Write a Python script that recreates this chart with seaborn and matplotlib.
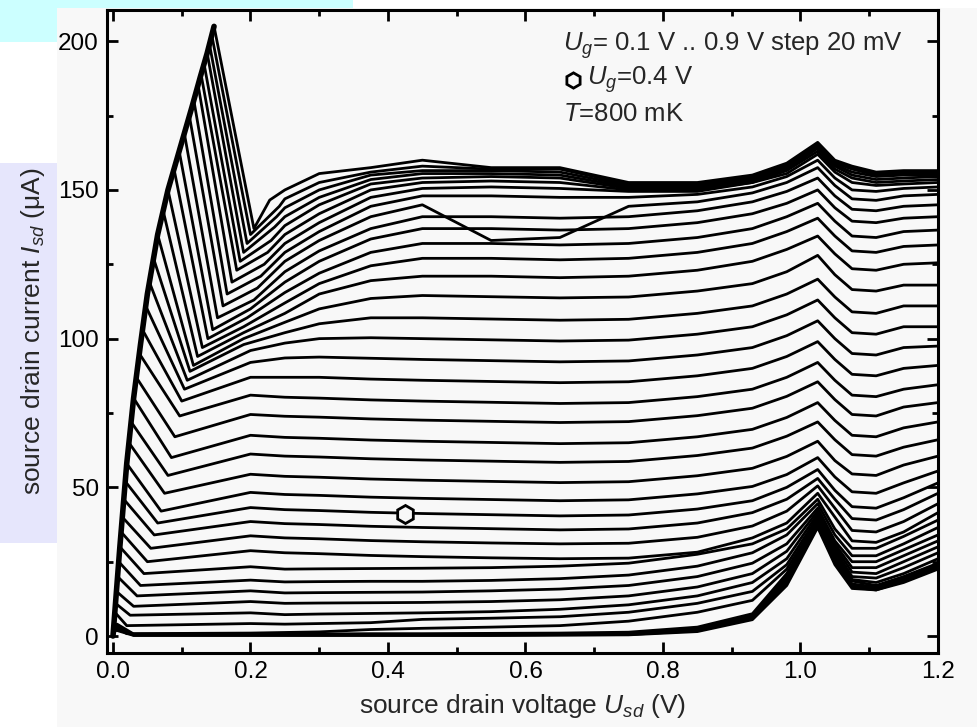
import numpy as np
import pandas as pd
import matplotlib
matplotlib.use("Agg")
import matplotlib.pyplot as plt
from matplotlib.patches import Rectangle
import seaborn as sns

sns.set_theme(style="ticks")
plt.rcParams['font.family'] = ['Liberation Sans', 'DejaVu Sans']
plt.rcParams['mathtext.fontset'] = 'custom'
plt.rcParams['mathtext.rm'] = 'Liberation Sans'
plt.rcParams['mathtext.it'] = 'Liberation Sans:italic'

# ---------------- data ----------------
gate_voltages = np.round(np.arange(0.10, 0.901, 0.02), 2)  # 41 curves, 0.10 .. 0.90 V

# common rising envelope (thick left edge)
env_x = [0.0, 0.005, 0.01, 0.02, 0.03, 0.04, 0.05, 0.065, 0.08, 0.10, 0.115, 0.127, 0.137, 0.147]
env_y = [0.0, 15, 30, 58, 80, 98, 115, 135, 150, 166, 178, 188, 196, 205]

spike_x = [0.004, 0.004, 0.005, 0.005, 0.006, 0.0013, 0.0027, 0.0037, 0.005, 0.0067,
           0.0083, 0.010, 0.0118, 0.0136, 0.0157, 0.0179, 0.020, 0.0232, 0.0264, 0.030,
           0.0339, 0.0383, 0.0429, 0.0476, 0.053, 0.059, 0.065, 0.073, 0.080, 0.0888,
           0.0963, 0.1038, 0.111, 0.1177, 0.124, 0.128, 0.132, 0.137, 0.1403, 0.1437, 0.147]
spike_y = [2, 2.5, 3, 3.5, 4, 4, 8, 11, 15, 20,
           25, 30, 35, 40, 46, 52, 58, 65, 72, 80,
           87, 95, 103, 111, 119, 127, 135, 143, 150, 157,
           163, 169, 175, 180, 185, 189, 193, 196, 199, 202, 205]
trough_x = [0.03, 0.03, 0.03, 0.03, 0.03, 0.02, 0.02, 0.025, 0.03, 0.035,
            0.04, 0.045, 0.05, 0.055, 0.06, 0.065, 0.07, 0.075, 0.08, 0.085,
            0.09, 0.097, 0.10, 0.104, 0.108, 0.112, 0.117, 0.123, 0.13, 0.138,
            0.145, 0.152, 0.16, 0.166, 0.173, 0.18, 0.185, 0.19, 0.195, 0.20, 0.205]
trough_y = [0.2, 0.3, 0.4, 0.5, 0.7, 0.8, 3.5, 7, 10, 13.5,
            17, 21, 25, 29.5, 34, 38, 42, 48, 54, 60,
            67, 74, 79, 83, 86, 89, 91, 94, 97, 100,
            103, 107, 111, 115, 119, 123, 126, 129, 132, 135, 137]
bump_x = [0.2, 0.2, 0.2, 0.2, 0.2, 0.2, 0.2, 0.2, 0.2, 0.2,
          0.2, 0.2, 0.2, 0.2, 0.2, 0.2, 0.2, 0.2, 0.2, 0.2,
          0.2, 0.2, 0.2, 0.2, 0.2, 0.19, 0.19, 0.19, 0.19, 0.195,
          0.2, 0.205, 0.21, 0.215, 0.22, 0.225, 0.23, 0.235, 0.238, 0.242, 0.228]
bump_y = [0.2, 0.3, 0.4, 0.5, 0.7, 1.0, 4.2, 7.8, 11.6, 15.2,
          18.8, 23.3, 28.7, 33.7, 38.5, 43.2, 48.3, 54.4, 61.2, 67.5,
          74.5, 81, 87, 92, 96, 98, 100, 102, 104, 107,
          110, 113, 117, 121, 125, 129, 133, 137.5, 141, 144.5, 146.6]

tail_x = [0.25, 0.30, 0.375, 0.45, 0.55, 0.65, 0.75, 0.85, 0.93, 0.98,
          1.025, 1.05, 1.075, 1.11, 1.15, 1.20]
i_025 = [0.2, 0.3, 0.4, 0.5, 0.7, 1.2, 4, 7.2, 11, 14.5,
         18.2, 22.5, 28, 33, 37.8, 42.5, 47.6, 53.7, 60.5, 66.8,
         73.9, 80.3, 87, 93.5, 98.5, 102, 105.5, 108.5, 112, 115.5,
         119, 122.5, 126, 129, 132, 135, 138, 141, 144, 147, 150]
i_030 = [0.2, 0.3, 0.4, 0.5, 0.7, 1.4, 4.2, 7.4, 11.1, 14.6,
         18.3, 22.6, 27.7, 32.7, 37.5, 42.2, 47.3, 53.4, 60.2, 66.5,
         73.6, 80, 87, 93.8, 100, 105, 110, 115, 118.5, 122,
         126, 129.5, 133, 136, 139, 142, 145, 147.5, 150, 152.5, 155.5]
i_0375 = [0.2, 0.3, 0.4, 0.5, 0.8, 2.2, 4.5, 7.6, 11.2, 14.7,
          18.4, 22.7, 27.1, 32.1, 36.9, 41.6, 46.7, 52.8, 59.6, 65.9,
          73, 79.4, 86.4, 93.4, 100.3, 107, 113.5, 119.5, 124.5, 129,
          133.5, 137, 141, 144.5, 147.5, 150, 152, 153.5, 155, 156, 157.5]
i_045 = [0.2, 0.3, 0.4, 0.5, 0.8, 2.6, 5.6, 7.8, 11.3, 14.8,
         18.4, 22.8, 26.7, 31.7, 36.5, 41.2, 46.3, 52.4, 59.2, 65.5,
         72.6, 79, 86, 93, 100, 107, 114.5, 121, 127, 132,
         137, 141, 145, 148, 150.5, 152.5, 154, 155.5, 156.5, 158, 160]
i_055 = [0.2, 0.3, 0.4, 0.6, 0.9, 3, 6, 8.2, 11.6, 15.2,
         18.7, 23, 26.3, 31.3, 36.1, 40.8, 45.9, 52, 58.8, 65.1,
         72.2, 78.6, 85.6, 92.6, 99.6, 106.6, 114.1, 121, 127, 132,
         137, 141, 133, 148, 151, 153, 154.5, 155.5, 156.5, 157, 157.5]
i_065 = [0.3, 0.4, 0.5, 0.7, 1.0, 3.5, 6.5, 9, 12.2, 15.8,
         19.3, 23.5, 26, 31, 35.7, 40.4, 45.5, 51.6, 58.4, 64.7,
         71.8, 78.2, 85.2, 92.2, 99.2, 106.2, 113.7, 120.5, 126.5, 131.5,
         136.5, 140.5, 134, 147.5, 150.5, 152.5, 154, 155, 156, 157, 157.5]
i_075 = [0.4, 0.5, 0.7, 0.9, 1.3, 5, 8, 10.5, 13.5, 17,
         20.5, 24.5, 26.2, 31.2, 36, 40.7, 45.8, 51.9, 58.7, 65,
         72.1, 78.5, 85.5, 92.5, 99.5, 106.5, 114, 121, 127, 132,
         137, 141, 144.5, 147.5, 149.5, 150, 150.5, 151, 151.5, 152, 152.5]
i_085 = [1.5, 1.8, 2.2, 2.6, 3, 8, 11, 13.5, 16.5, 20,
         23.5, 27.5, 28.2, 33.2, 38, 42.7, 47.8, 53.9, 60.7, 67,
         74.1, 80.5, 87.5, 94.5, 101.5, 108.5, 116, 123, 129, 134,
         139, 143, 146, 148.5, 149.5, 150, 150.5, 151, 151.5, 152, 152.5]
i_093 = [5.5, 6, 6.5, 7, 7.5, 12, 15, 18, 21, 24.5,
         28, 31, 33, 37, 41.5, 45.5, 50.3, 56.4, 63.2, 69.5,
         76.6, 83, 90, 97, 104, 111, 118.5, 126, 132, 137,
         142, 146, 149, 151, 152.5, 152.5, 153, 153.5, 154, 154.5, 155]
i_098 = [17, 18, 19, 20, 21, 22.5, 24, 26, 28.5, 31,
         34, 36, 38, 42, 46, 50, 54.3, 60.4, 67.2, 73.5,
         80.6, 87, 94, 101, 108, 115, 122.5, 130, 136, 141,
         145.5, 149.5, 152.5, 154.5, 155.5, 156.5, 157, 157.5, 158, 158.5, 159]
i_1025 = [36.5, 37, 37.5, 38, 38.5, 39, 40, 41, 42, 43,
          44.5, 46, 48, 50.5, 53, 56, 60, 65.5, 72, 78.5,
          85.5, 92, 99, 106, 113, 120, 128, 134.5, 140.5, 145.5,
          150, 154, 157.5, 160, 162, 163, 164, 164.5, 165, 165.5, 166]
i_105 = [24, 25, 26, 27, 28, 28.5, 29, 30, 31, 32,
         34, 36, 40, 43, 46, 49, 53.5, 59, 66, 72.5,
         79.5, 86, 93, 100, 107, 114, 121.5, 128.5, 134.5, 139.5,
         144, 148, 151.5, 154, 156, 157, 158, 158.5, 159, 159.5, 160]
i_1075 = [16, 16.5, 17, 17.5, 18.5, 19, 20, 21.5, 23, 25,
          27, 29.5, 32, 35.5, 39.5, 43.5, 48.5, 54.5, 61, 67.5,
          74.5, 81, 88, 95, 102, 109, 116.5, 123.5, 129.5, 134.5,
          139.5, 143.5, 147, 150, 152.5, 154, 155, 156, 157, 157.5, 158]
i_111 = [15.5, 15.5, 16, 16.5, 17, 18, 19.5, 21, 23, 25,
         27, 29.5, 31.5, 35, 39, 43, 48, 54, 60.5, 67,
         74, 80.5, 87.5, 94.5, 101.5, 108.5, 116, 123, 129, 134,
         139, 143, 146.5, 149.5, 151.5, 152.5, 153.5, 154.5, 155, 155.5, 156]
i_115 = [18, 18.5, 19, 19.5, 20, 21, 23, 25, 27, 29,
         31, 33.5, 35, 38.5, 42.5, 46.5, 51.5, 57.5, 63.5, 70,
         77, 83, 90, 97, 104, 111, 118, 125, 131, 136,
         140.5, 144.5, 148, 150.5, 152, 153, 154, 155, 155.5, 156, 156.5]
i_120 = [22.5, 23, 23.5, 24, 24.5, 26, 28, 30, 32, 34,
         36.5, 39, 41.5, 44.5, 48, 51.5, 55.5, 60.5, 66, 72,
         78.5, 84.5, 91, 97.5, 104, 111, 118, 125.5, 131.5, 136.5,
         141, 145, 148.5, 151, 152.5, 153.5, 154.5, 155, 155.5, 156, 156.5]
tail_cols = [i_025, i_030, i_0375, i_045, i_055, i_065, i_075, i_085, i_093, i_098,
             i_1025, i_105, i_1075, i_111, i_115, i_120]

marked_point = (0.425, 41.2)   # open hexagon on the U_g = 0.4 V curve

n = len(gate_voltages)
for arr in [spike_x, spike_y, trough_x, trough_y, bump_x, bump_y] + tail_cols:
    assert len(arr) == n, len(arr)

# ---------------- long table ----------------
rows = []
for k, ug in enumerate(gate_voltages):
    xs = [0.0]
    ys = [0.0]
    for ex, ey in zip(env_x[1:], env_y[1:]):
        if ey < spike_y[k] and ex < spike_x[k]:
            xs.append(ex)
            ys.append(ey)
    xs += [spike_x[k], trough_x[k], bump_x[k]] + tail_x
    ys += [spike_y[k], trough_y[k], bump_y[k]] + [c[k] for c in tail_cols]
    for j, (xv, yv) in enumerate(zip(xs, ys)):
        rows.append({"Ug": ug, "order": j, "Usd": xv, "Isd": yv})
df = pd.DataFrame(rows)
env_df = pd.DataFrame({"Usd": env_x, "Isd": env_y})

# ---------------- figure ----------------
W, H = 977, 727
BG = "#f8f8f8"
fig = plt.figure(figsize=(W / 100, H / 100), dpi=100)
fig.patch.set_facecolor("white")

def px_rect(x0, y0, x1, y1, color):
    fig.patches.append(Rectangle((x0 / W, 1 - y1 / H), (x1 - x0) / W, (y1 - y0) / H,
                                 transform=fig.transFigure, facecolor=color,
                                 edgecolor="none", zorder=-10))

px_rect(0, 0, 353, 8, "#ccffff")
px_rect(0, 0, 57, 42, "#ccffff")
px_rect(0, 163, 57, 543, "#e6e6fc")
px_rect(57, 8, 977, 727, BG)

ax = fig.add_axes([107 / W, 1 - 653 / H, (938 - 107) / W, (653 - 10) / H])
ax.set_facecolor(BG)

sns.lineplot(data=df, x="Usd", y="Isd", units="Ug", estimator=None, sort=False,
             color="black", linewidth=2.0, legend=False, ax=ax)
# overlapping rising edges of all curves form a thick common envelope
sns.lineplot(data=env_df, x="Usd", y="Isd", estimator=None, sort=False,
             color="black", linewidth=4.0, legend=False, ax=ax)

ax.plot([marked_point[0]], [marked_point[1]], marker="h", ms=13, mfc=BG,
        mec="black", mew=2, ls="none", zorder=5)

ax.set_xlim(-0.0087, 1.2)
ax.set_ylim(-5.7, 210.5)
ax.set_xticks([0.0, 0.2, 0.4, 0.6, 0.8, 1.0, 1.2])
ax.set_xticklabels(["0.0", "0.2", "0.4", "0.6", "0.8", "1.0", "1.2"])
ax.set_xticks(np.arange(0.1, 1.2, 0.2), minor=True)
ax.set_yticks([0, 50, 100, 150, 200])
ax.set_yticks([25, 75, 125, 175], minor=True)

for s in ax.spines.values():
    s.set_linewidth(2.2)
    s.set_color("black")
ax.tick_params(which="both", direction="in", top=True, right=True, colors="black",
               labelsize=17.5, width=2)
ax.tick_params(which="major", length=8, pad=6)
ax.tick_params(which="minor", length=4.5)

ax.set_xlabel("source drain voltage $U_{sd}$ (V)", fontsize=19, labelpad=6)
ax.set_ylabel(r"source drain current $I_{sd}$ ($\mathrm{\mu}$A)", fontsize=19, labelpad=8)

ax.text(0.655, 198.5, "$U_g$= 0.1 V .. 0.9 V step 20 mV", fontsize=18.5, va="center", ha="left")
ax.plot([0.669], [187], marker="h", ms=11, mfc=BG, mec="black", mew=2, ls="none")
ax.text(0.69, 187, "$U_g$=0.4 V", fontsize=18.5, va="center", ha="left")
ax.text(0.655, 175.5, "$T$=800 mK", fontsize=18.5, va="center", ha="left")

fig.savefig("out.png", dpi=100, facecolor=fig.get_facecolor())
